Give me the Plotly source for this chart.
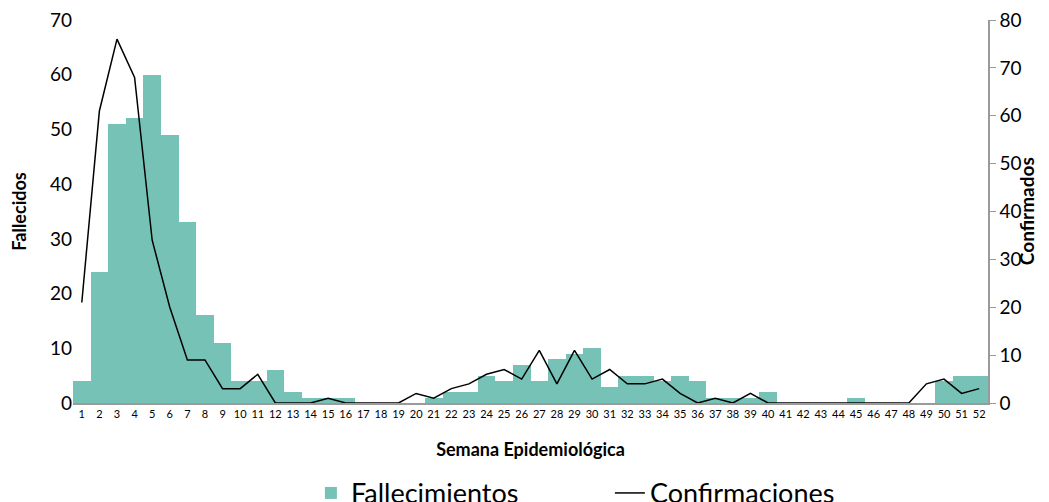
"""Fallecidos y confirmados por semana epidemiológica."""

import plotly.graph_objects as go

TEAL = "#76C2B6"
FONT = "Lato"

semanas = [str(i) for i in range(1, 53)]

fallecidos = [
    4, 24, 51, 52, 60, 49, 33, 16, 11, 4,
    4, 6, 2, 1, 1, 1, 0, 0, 0, 0,
    1, 2, 2, 5, 4, 7, 4, 8, 9, 10,
    3, 5, 5, 4, 5, 4, 1, 1, 1, 2,
    0, 0, 0, 0, 1, 0, 0, 0, 0, 4,
    5, 5,
]

confirmados = [
    21, 61, 76, 68, 34, 20, 9, 9, 3, 3,
    6, 0, 0, 0, 1, 0, 0, 0, 0, 2,
    1, 3, 4, 6, 7, 5, 11, 4, 11, 5,
    7, 4, 4, 5, 2, 0, 1, 0, 2, 0,
    0, 0, 0, 0, 0, 0, 0, 0, 4, 5,
    2, 3,
]

fig = go.Figure()
fig.add_trace(go.Bar(
    x=semanas, y=fallecidos, name="Fallecimientos",
    marker=dict(color=TEAL, line=dict(width=0)),
))
fig.add_trace(go.Scatter(
    x=semanas, y=confirmados, name="Confirmaciones", yaxis="y2",
    mode="lines", line=dict(color="black", width=1.5),
))

fig.update_layout(
    width=1049, height=502,
    margin=dict(l=73, r=61, t=20, b=99, autoexpand=False),
    plot_bgcolor="white", paper_bgcolor="white",
    bargap=0,
    font=dict(family=FONT, color="black"),
    showlegend=True,
    legend=dict(
        orientation="h", x=0.26, xanchor="left", y=-0.172, yanchor="top",
        font=dict(size=27, family=FONT), itemwidth=30, entrywidth=254,
    ),
    xaxis=dict(
        type="category", tickfont=dict(size=11), ticks="",
        showline=True, linecolor="#9a9a9a", linewidth=2, automargin=False,
        title=dict(text="<b>Semana Epidemiológica</b>",
                   font=dict(size=18, family=FONT), standoff=24),
    ),
    yaxis=dict(
        range=[0, 70], dtick=10, showgrid=False, zeroline=False,
        tickfont=dict(size=19), ticks="", automargin=False,
        title=dict(text="<b>Fallecidos</b>", font=dict(size=18),
                   standoff=18),
    ),
    yaxis2=dict(
        overlaying="y", side="right", range=[0, 80], dtick=10,
        showgrid=False, zeroline=False, automargin=False,
        showline=True, linecolor="#9a9a9a", linewidth=1.5,
        ticks="outside", ticklen=6, tickcolor="#9a9a9a",
        tickfont=dict(size=19),
    ),
)

fig.add_annotation(
    text="<b>Confirmados</b>", textangle=-90, showarrow=False,
    xref="paper", yref="paper", x=1.057, y=0.5,
    font=dict(size=19, family=FONT),
)

# drop the default 8px body margin so the figure sits at the page corner
fig.write_html(
    "out.html",
    config={"displayModeBar": False},
    post_script="document.body.style.margin='0';",
)
